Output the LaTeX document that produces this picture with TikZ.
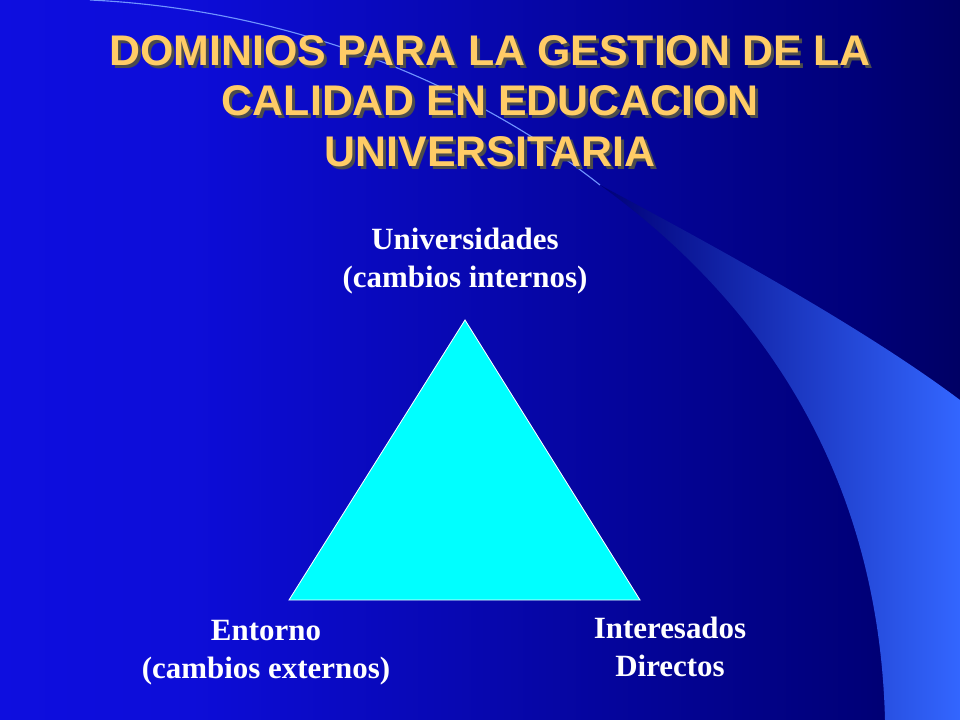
\documentclass[tikz,border=0pt]{standalone}
\usepackage{fontspec}
\setmainfont{Liberation Serif}
\newfontfamily\titlefont{Liberation Sans}
\usetikzlibrary{positioning}

\definecolor{slideblue}{RGB}{16,16,240}
\definecolor{slidenavy}{RGB}{0,0,120}
\definecolor{swoosh}{RGB}{51,102,255}
\definecolor{titleyellow}{RGB}{255,204,102}
\definecolor{trifill}{RGB}{0,255,255}

\pgfdeclarehorizontalshading{slidebg}{100bp}{color(0bp)=(slideblue); color(35bp)=(slideblue!80!slidenavy); color(70bp)=(slidenavy); color(100bp)=(black)}

\tikzset{
	titletext/.style={font=\titlefont\bfseries\fontsize{30.5}{36}\selectfont,text=titleyellow,align=center},
	shadowtext/.style={font=\titlefont\bfseries\fontsize{30.5}{36}\selectfont,text=black!70,align=center},
	cornerlabel/.style={font=\bfseries\fontsize{22}{27}\selectfont,text=white,align=center}
}

\begin{document}
\begin{tikzpicture}[x=0.025cm,y=-0.025cm]
	\useasboundingbox (0,0) rectangle (960,720);
	% background
	\shade[shading=slidebg] (0,0) rectangle (960,720);
	% swoosh on the right
	\shade[left color=slidenavy,right color=swoosh] (600,185) .. controls (760,270) and (880,340) .. (960,400)
		-- (960,720) -- (885,720) .. controls (880,520) and (800,330) .. (600,185) -- cycle;
	\draw[swoosh!70,line width=0.8pt] (90,0) .. controls (300,10) and (480,90) .. (600,185);

	% title
	\node[shadowtext] (shadow) at (493,104) {DOMINIOS PARA LA GESTION DE LA\\CALIDAD EN EDUCACION\\UNIVERSITARIA};
	\node[titletext] (title) at (490,101) {DOMINIOS PARA LA GESTION DE LA\\CALIDAD EN EDUCACION\\UNIVERSITARIA};

	% triangle
	\coordinate (top) at (465,320);
	\coordinate (left) at (289,600);
	\coordinate (right) at (640,600);
	\draw[fill=trifill,draw=white,line width=0.6pt] (top) -- (left) -- (right) -- cycle;

	\node[cornerlabel] (univ) at (465,261) {Universidades\\(cambios internos)};
	\node[cornerlabel] (entorno) at (266,653) {Entorno\\(cambios externos)};
	\node[cornerlabel] (inter) at (670,647) {Interesados\\Directos};
\end{tikzpicture}
\end{document}
